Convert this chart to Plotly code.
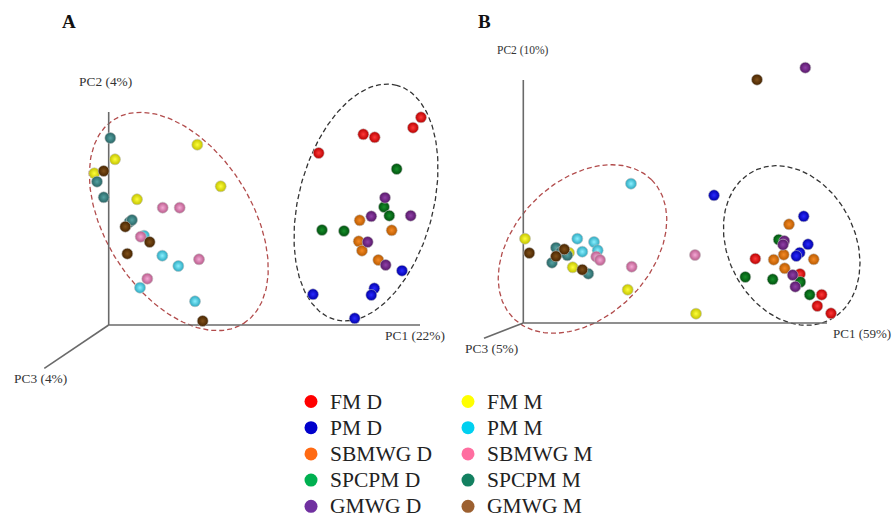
import numpy as np
import plotly.graph_objects as go

# ---------------------------------------------------------------
# Sample groups (diet / site) and their colours
# ---------------------------------------------------------------
GROUPS = ["FM D", "PM D", "SBMWG D", "SPCPM D", "GMWG D",
          "FM M", "PM M", "SBMWG M", "SPCPM M", "GMWG M"]

# flat colours used in the key
KEY_COLORS = ["#ff0000", "#0000cc", "#ff6a13", "#00b050", "#7030a0",
              "#ffff00", "#00d0f0", "#ff6ea0", "#138060", "#9c6030"]

# shaded sphere colours (edge, centre) used for the sample points
BALL_EDGE = ["#b80000", "#0000a8", "#b85a00", "#00500e", "#561868",
             "#c2c200", "#2aa8c0", "#b85a8a", "#286464", "#462400"]
BALL_CORE = ["#ff3a3a", "#2a2aff", "#f58a25", "#16902a", "#9040a8",
             "#ffff3a", "#8af0ff", "#f5a8d5", "#55a2a2", "#80501a"]

# ---------------------------------------------------------------
# Panel A - projected PCoA scores (PC1 to the right, PC2 upward)
# ---------------------------------------------------------------
A_FM_D = [(312.3, 207.7), (304.3, 197.3), (254.6, 190.7), (266.0, 187.7), (210.0, 172.0)]
A_PM_D = [(293.3, 54.3), (265.6, 36.7), (262.6, 30.0), (204.3, 30.7), (246.0, 6.7)]
A_SBMWG_D = [(251.0, 104.7), (283.0, 94.7), (250.0, 83.7), (253.3, 74.3), (269.6, 65.0)]
A_SPCPM_D = [(288.0, 156.0), (275.3, 118.0), (280.6, 109.3), (213.3, 95.0), (235.3, 94.0)]
A_GMWG_D = [(276.3, 127.3), (262.6, 108.7), (302.0, 109.3), (259.0, 83.0), (277.0, 60.0)]
A_FM_M = [(6.3, 165.7), (-14.4, 151.7), (28.3, 125.7), (88.6, 180.3), (112.0, 138.7)]
A_PM_M = [(35.3, 89.3), (53.6, 69.3), (69.6, 59.0), (31.3, 37.3), (86.3, 23.7)]
A_SBMWG_M = [(54.0, 117.3), (71.0, 117.3), (32.0, 88.3), (90.3, 65.7), (38.6, 46.3)]
A_SPCPM_M = [(1.6, 187.0), (-11.7, 143.3), (-5.0, 127.7), (20.8, 103.0), (23.3, 105.0)]
A_GMWG_M = [(-5.0, 154.0), (16.6, 98.3), (41.0, 83.0), (18.6, 71.3), (94.0, 4.0)]

# ---------------------------------------------------------------
# Panel B - projected PCoA scores
# ---------------------------------------------------------------
B_FM_D = [(232.0, 64.3), (276.7, 49.0), (298.4, 28.3), (294.0, 17.0), (307.7, 9.7)]
B_PM_D = [(190.7, 127.7), (280.4, 106.7), (284.7, 78.7), (276.4, 70.3), (273.0, 67.0)]
B_SBMWG_D = [(265.7, 98.7), (260.4, 68.3), (250.4, 63.3), (290.4, 63.7), (261.4, 54.7)]
B_SPCPM_D = [(255.4, 83.3), (222.0, 46.0), (249.4, 43.7), (277.0, 41.0), (286.4, 28.3)]
B_GMWG_D = [(282.0, 255.3), (261.0, 82.0), (259.7, 78.3), (269.4, 48.0), (272.0, 36.3)]
B_FM_M = [(1.7, 84.3), (45.7, 70.3), (49.4, 55.7), (104.4, 33.3), (172.7, 9.3)]
B_PM_M = [(107.7, 139.3), (54.0, 84.3), (70.7, 81.0), (59.0, 71.3), (74.4, 72.7)]
B_SBMWG_M = [(73.0, 66.3), (76.7, 63.0), (108.4, 56.3), (171.7, 68.0)]
B_SPCPM_M = [(32.7, 75.3), (37.7, 71.0), (44.0, 67.7), (28.7, 60.3), (65.0, 49.3)]
B_GMWG_M = [(6.0, 70.0), (41.0, 73.7), (32.7, 66.7), (59.0, 53.3), (233.7, 243.3)]

PANEL_A = [A_FM_D, A_PM_D, A_SBMWG_D, A_SPCPM_D, A_GMWG_D,
           A_FM_M, A_PM_M, A_SBMWG_M, A_SPCPM_M, A_GMWG_M]
PANEL_B = [B_FM_D, B_PM_D, B_SBMWG_D, B_SPCPM_D, B_GMWG_D,
           B_FM_M, B_PM_M, B_SBMWG_M, B_SPCPM_M, B_GMWG_M]

# axis labels with explained variance
A_AXIS_LABELS = ["PC1 (22%)", "PC2 (4%)", "PC3 (4%)"]
B_AXIS_LABELS = ["PC1 (59%)", "PC2 (10%)", "PC3 (5%)"]

# projected axis end points (PC1, PC2, PC3)
A_AXIS_ENDS = [(311.3, 0.0), (0.0, 213.0), (-64.4, -43.3)]
B_AXIS_ENDS = [(303.7, 0.0), (0.0, 243.0), (-39.3, -15.3)]

# group ellipses: centre x, centre y, semi-major, semi-minor, angle (deg)
A_ELLIPSE_M = (70.1, 103.5, 120.8, 73.0, -57.5)
A_ELLIPSE_D = (257.3, 122.5, 121.2, 67.3, 75.3)
B_ELLIPSE_M = (59.2, 74.0, 97.8, 68.1, 45.0)
B_ELLIPSE_D = (268.4, 77.5, 83.6, 63.6, -62.7)

SERIF = "Liberation Serif, Times New Roman, serif"


def ellipse(cx, cy, a, b, deg, n=240):
    t = np.linspace(0, 2 * np.pi, n)
    th = np.radians(deg)
    x = cx + a * np.cos(t) * np.cos(th) - b * np.sin(t) * np.sin(th)
    y = cy + a * np.cos(t) * np.sin(th) + b * np.sin(t) * np.cos(th)
    return x, y


fig = go.Figure()


def add_panel(points, ell_m, ell_d, ends, labels, xa, ya, label_opts):
    # confidence ellipses
    for ell, col in ((ell_m, "#b24c4c"), (ell_d, "#333333")):
        ex, ey = ellipse(*ell)
        fig.add_trace(go.Scatter(
            x=ex, y=ey, mode="lines", xaxis=xa, yaxis=ya, showlegend=False,
            hoverinfo="skip",
            line=dict(color=col, width=1.3, dash="5px,3px")))
    # projected PC axes
    for (ex, ey) in ends:
        fig.add_trace(go.Scatter(
            x=[0, ex], y=[0, ey], mode="lines", xaxis=xa, yaxis=ya,
            showlegend=False, hoverinfo="skip",
            line=dict(color="#6a6a6a", width=1.6)))
    # sample points
    for i, pts in enumerate(points):
        fig.add_trace(go.Scatter(
            x=[p[0] for p in pts], y=[p[1] for p in pts],
            mode="markers", xaxis=xa, yaxis=ya, name=GROUPS[i],
            showlegend=False,
            marker=dict(size=11, color=BALL_EDGE[i],
                        gradient=dict(type="radial", color=BALL_CORE[i]),
                        line=dict(width=0.7, color="rgba(190,190,190,0.85)"))))
    # axis captions
    for (ex, ey), text, (anchor, dx, dy, size) in zip(ends, labels, label_opts):
        fig.add_annotation(x=ex, y=ey, xref=xa, yref=ya, text=text,
                           showarrow=False, xanchor=anchor, yanchor="middle",
                           xshift=dx, yshift=dy,
                           font=dict(family=SERIF, size=size, color="#333333"))


add_panel(PANEL_A, A_ELLIPSE_M, A_ELLIPSE_D, A_AXIS_ENDS, A_AXIS_LABELS, "x", "y",
          [("left", -37, -10, 13.4), ("center", -3, 31, 13.4), ("left", -32, -10, 13.4)])
add_panel(PANEL_B, B_ELLIPSE_M, B_ELLIPSE_D, B_AXIS_ENDS, B_AXIS_LABELS, "x2", "y2",
          [("left", 4, -10, 13), ("center", 0, 30, 11.5), ("left", -21, -10, 13.4)])

# key: two columns of five groups
KEY_COL = [0, 0, 0, 0, 0, 1, 1, 1, 1, 1]
KEY_ROW = [0, 1, 2, 3, 4, 0, 1, 2, 3, 4]
for i, g in enumerate(GROUPS):
    fig.add_trace(go.Scatter(
        x=[KEY_COL[i]], y=[KEY_ROW[i]], mode="markers", xaxis="x3", yaxis="y3",
        showlegend=False, hoverinfo="skip",
        marker=dict(size=13, color=KEY_COLORS[i], line=dict(width=0))))
    fig.add_annotation(x=KEY_COL[i], y=KEY_ROW[i], xref="x3", yref="y3",
                       text=g, showarrow=False, xanchor="left",
                       yanchor="middle", xshift=17, yshift=0,
                       font=dict(family=SERIF, size=21.5, color="#222222"))

# panel letters
fig.add_annotation(x=69 / 893, y=1 - 21.5 / 519, xref="paper", yref="paper",
                   xanchor="center", yanchor="middle",
                   text="<b>A</b>", showarrow=False,
                   font=dict(family=SERIF, size=19, color="#111111"))
fig.add_annotation(x=484.5 / 893, y=1 - 21 / 519, xref="paper", yref="paper",
                   xanchor="center", yanchor="middle",
                   text="<b>B</b>", showarrow=False,
                   font=dict(family=SERIF, size=19, color="#111111"))


def hidden(rng, domain, anchor):
    return dict(range=rng, domain=domain, anchor=anchor, visible=False,
                showgrid=False, zeroline=False, fixedrange=True)


KEY_TOP, KEY_STEP = 401.5, 26.2

fig.update_layout(
    width=893, height=519,
    margin=dict(l=0, r=0, t=0, b=0),
    paper_bgcolor="white", plot_bgcolor="rgba(0,0,0,0)",
    showlegend=False,
    xaxis=hidden([-108.7, 337.8], [0, 0.5], "y"),
    yaxis=hidden([-194, 325], [0, 1], "x"),
    xaxis2=hidden([-76.8, 369.7], [0.5, 1], "y2"),
    yaxis2=hidden([-196, 323], [0, 1], "x2"),
    xaxis3=hidden([-311 / 157, 582 / 157], [0, 1], "y3"),
    yaxis3=hidden([(519 - KEY_TOP) / KEY_STEP, -KEY_TOP / KEY_STEP], [0, 1], "x3"),
)

fig.write_html("out.html")
